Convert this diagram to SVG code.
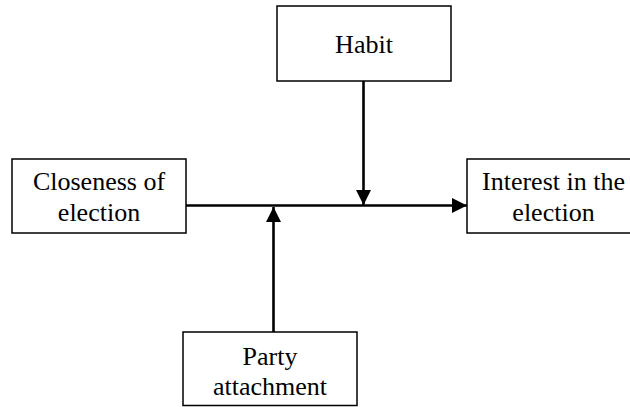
<svg xmlns="http://www.w3.org/2000/svg" width="630" height="407" viewBox="0 0 630 407">
<style>
.box{fill:#fff;stroke:#000;stroke-width:1.5}
.t{font-family:'Liberation Serif','Times New Roman',Times,serif;font-size:26px;fill:#000;text-anchor:middle}
.ln{stroke:#000;stroke-width:2.6;fill:none}
</style>
<defs>
<marker id="ah" markerUnits="userSpaceOnUse" markerWidth="16" markerHeight="16" refX="15" refY="7.5" orient="auto">
<path d="M0,0 L15,7.5 L0,15 Z" fill="#000"/>
</marker>
</defs>
<rect width="630" height="407" fill="#fff"/>
<g id="connectors">
<line class="ln" x1="186" y1="205.5" x2="467" y2="205.5" marker-end="url(#ah)"/>
<line class="ln" x1="363.5" y1="81" x2="363.5" y2="205" marker-end="url(#ah)"/>
<line class="ln" x1="273.5" y1="332" x2="273.5" y2="207" marker-end="url(#ah)"/>
</g>
<g id="closeness">
<rect class="box" x="12" y="159" width="174" height="74"/>
<text class="t" font-family="Liberation Serif, serif" x="99" y="190">Closeness of</text>
<text class="t" font-family="Liberation Serif, serif" x="99" y="221">election</text>
</g>
<g id="interest">
<rect class="box" x="467" y="159" width="174" height="74"/>
<text class="t" font-family="Liberation Serif, serif" x="553.5" y="190">Interest in the</text>
<text class="t" font-family="Liberation Serif, serif" x="553.5" y="221">election</text>
</g>
<g id="habit">
<rect class="box" x="277" y="6" width="174" height="75"/>
<text class="t" font-family="Liberation Serif, serif" x="364" y="53">Habit</text>
</g>
<g id="party">
<rect class="box" x="183" y="332" width="174" height="73.5"/>
<text class="t" font-family="Liberation Serif, serif" x="270" y="365">Party</text>
<text class="t" font-family="Liberation Serif, serif" x="270" y="395">attachment</text>
</g>
</svg>
